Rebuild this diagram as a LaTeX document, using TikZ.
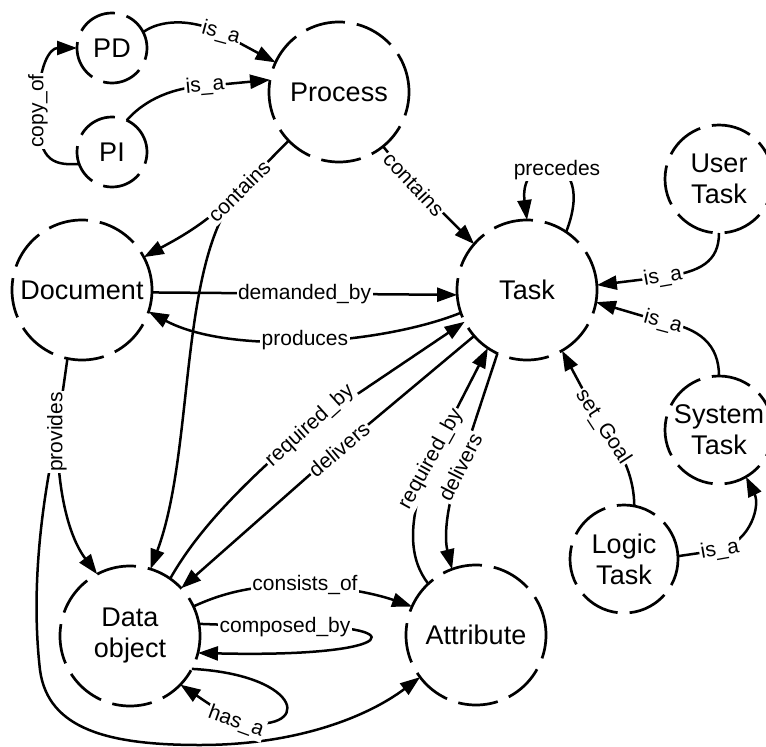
\documentclass[tikz,border=0pt]{standalone}
\usepackage{fontspec}
\setmainfont{Liberation Sans}
\usetikzlibrary{arrows.meta}
\begin{document}
\begin{tikzpicture}[x=1pt,y=-1pt,
  concept/.style={circle, draw, line width=2.7pt, dash pattern=on 40pt off 12pt,
    inner sep=0pt, outer sep=0pt, align=center,
    font=\fontsize{27}{31}\selectfont},
  bigc/.style={concept, minimum size=140pt},
  midc/.style={concept, minimum size=108pt},
  smallc/.style={concept, minimum size=70pt},
  rel/.style={line width=2.5pt},
  arr/.style={rel, -{Triangle[length=20pt,width=14pt]}},
  lab/.style={fill=white, inner sep=1.5pt, font=\fontsize{21}{24}\selectfont},
]
\useasboundingbox (0,0) rectangle (766,747);

% concepts
\node[smallc] (PD) at (112,48) {PD};
\node[smallc] (PI) at (112,152) {PI};
\node[bigc] (Process) at (339,92) {Process};
\node[bigc] (Document) at (82,290) {Document};
\node[bigc] (Task) at (527,290) {Task};
\node[midc] (UserTask) at (719,179) {User\\Task};
\node[midc] (SystemTask) at (719,430) {System\\Task};
\node[midc] (LogicTask) at (624,559) {Logic\\Task};
\node[bigc] (DataObj) at (130,636) {Data\\object};
\node[bigc] (Attribute) at (476,635) {Attribute};

% label anchors
\coordinate (Lcopy) at (38,111);
\coordinate (Lpd) at (221,33);
\coordinate (Lpi) at (205,86);
\coordinate (Lpdoc) at (239,191);
\coordinate (Lptask) at (414,184);
\coordinate (Luser) at (663,277);
\coordinate (Lsys) at (663,322);
\coordinate (Lgoal) at (603,427);
\coordinate (Llogic) at (720,550);
\coordinate (Lreq) at (310,426);
\coordinate (Ldel) at (339,449);
\coordinate (Lareq) at (431,459);
\coordinate (Ladel) at (460,467);
\coordinate (Lprov) at (57,432);
\coordinate (Lcons) at (305,585);
\coordinate (Lcomp) at (285,627);
\coordinate (Lhas) at (236,722);

% relations
\draw[rel] (PI.200) .. controls (50,166) and (38,158) .. (Lcopy);
\draw[arr] (Lcopy) .. controls (38,65) and (50,48) .. (PD.west);

\draw[rel] (PD.27) .. controls (160,20) and (190,18) .. (Lpd);
\draw[arr] (Lpd) -- (Process.155);

\draw[rel] (PI.65) .. controls (140,105) and (165,88) .. (Lpi);
\draw[arr] (Lpi) -- (Process.170);

\draw[rel] (Process.224) -- (Lpdoc);
\draw[arr] (Lpdoc) .. controls (205,225) and (175,240) .. (Document.28);
\draw[arr] (Lpdoc) .. controls (178,262) and (195,450) .. (DataObj.73);

\draw[rel] (Process.309) -- (Lptask);
\draw[arr] (Lptask) -- (Task.139);

\draw[arr] (Task.56) .. controls (598,150) and (518,150) .. (Task.90);

\draw[rel] (UserTask.270) .. controls (719,262) and (700,272) .. (Luser);
\draw[arr] (Luser) -- (Task.4);

\draw[rel] (SystemTask.90) .. controls (719,345) and (700,328) .. (Lsys);
\draw[arr] (Lsys) -- (Task.350);

\draw[rel] (LogicTask.79) .. controls (634,480) and (625,455) .. (Lgoal);
\draw[arr] (Lgoal) -- (Task.300);

\draw[rel] (LogicTask.3) -- (Llogic);
\draw[arr] (Llogic) .. controls (752,540) and (760,505) .. (SystemTask.300);

\draw[arr] (Document.358) -- node[lab, pos=0.5] {demanded\_by} (Task.184);

\draw[arr] (Task.199) .. controls (380,345) and (230,355) .. node[lab, pos=0.5] {produces} (Document.342);

\draw[rel] (DataObj.55) .. controls (195,535) and (235,490) .. (Lreq);
\draw[arr] (Lreq) -- (Task.207);

\draw[rel] (Task.221) -- (Ldel);
\draw[arr] (Ldel) -- (DataObj.43);

\draw[rel] (Attribute.133) .. controls (410,560) and (405,525) .. (Lareq);
\draw[arr] (Lareq) -- (Task.236);

\draw[rel] (Task.245) -- (Ladel);
\draw[arr] (Ladel) .. controls (442,520) and (446,545) .. (Attribute.110);

\draw[rel] (Document.258) -- (Lprov);
\draw[arr] (Lprov) .. controls (58,510) and (75,545) .. (DataObj.118);
\draw[arr] (Lprov) .. controls (38,520) and (32,600) .. (40,670)
  .. controls (48,730) and (110,745) .. (200,745)
  .. controls (300,745) and (370,715) .. (Attribute.217);

\draw[rel] (DataObj.25) .. controls (225,592) and (255,585) .. (Lcons);
\draw[arr] (Lcons) .. controls (355,588) and (385,597) .. (Attribute.156);

\draw[rel] (DataObj.10) -- (Lcomp);
\draw[arr] (Lcomp) .. controls (410,622) and (410,658) .. (DataObj.346);

\draw[rel] (DataObj.332) .. controls (305,675) and (315,735) .. (Lhas);
\draw[arr] (Lhas) -- (DataObj.316);

% relation labels
\node[lab, rotate=90] at (Lcopy) {copy\_of};
\node[lab, rotate=-15] at (Lpd) {is\_a};
\node[lab, rotate=5] at (Lpi) {is\_a};
\node[lab, rotate=45] at (Lpdoc) {contains};
\node[lab, rotate=-47] at (Lptask) {contains};
\node[lab] at (557,170) {precedes};
\node[lab, rotate=10] at (Luser) {is\_a};
\node[lab, rotate=-15] at (Lsys) {is\_a};
\node[lab, rotate=-57] at (Lgoal) {set\_Goal};
\node[lab, rotate=10] at (Llogic) {is\_a};
\node[lab, rotate=42] at (Lreq) {required\_by};
\node[lab, rotate=40] at (Ldel) {delivers};
\node[lab, rotate=61] at (Lareq) {required\_by};
\node[lab, rotate=63] at (Ladel) {delivers};
\node[lab, rotate=90] at (Lprov) {provides};
\node[lab] at (Lcons) {consists\_of};
\node[lab] at (Lcomp) {composed\_by};
\node[lab, rotate=-20] at (Lhas) {has\_a};
\end{tikzpicture}
\end{document}
